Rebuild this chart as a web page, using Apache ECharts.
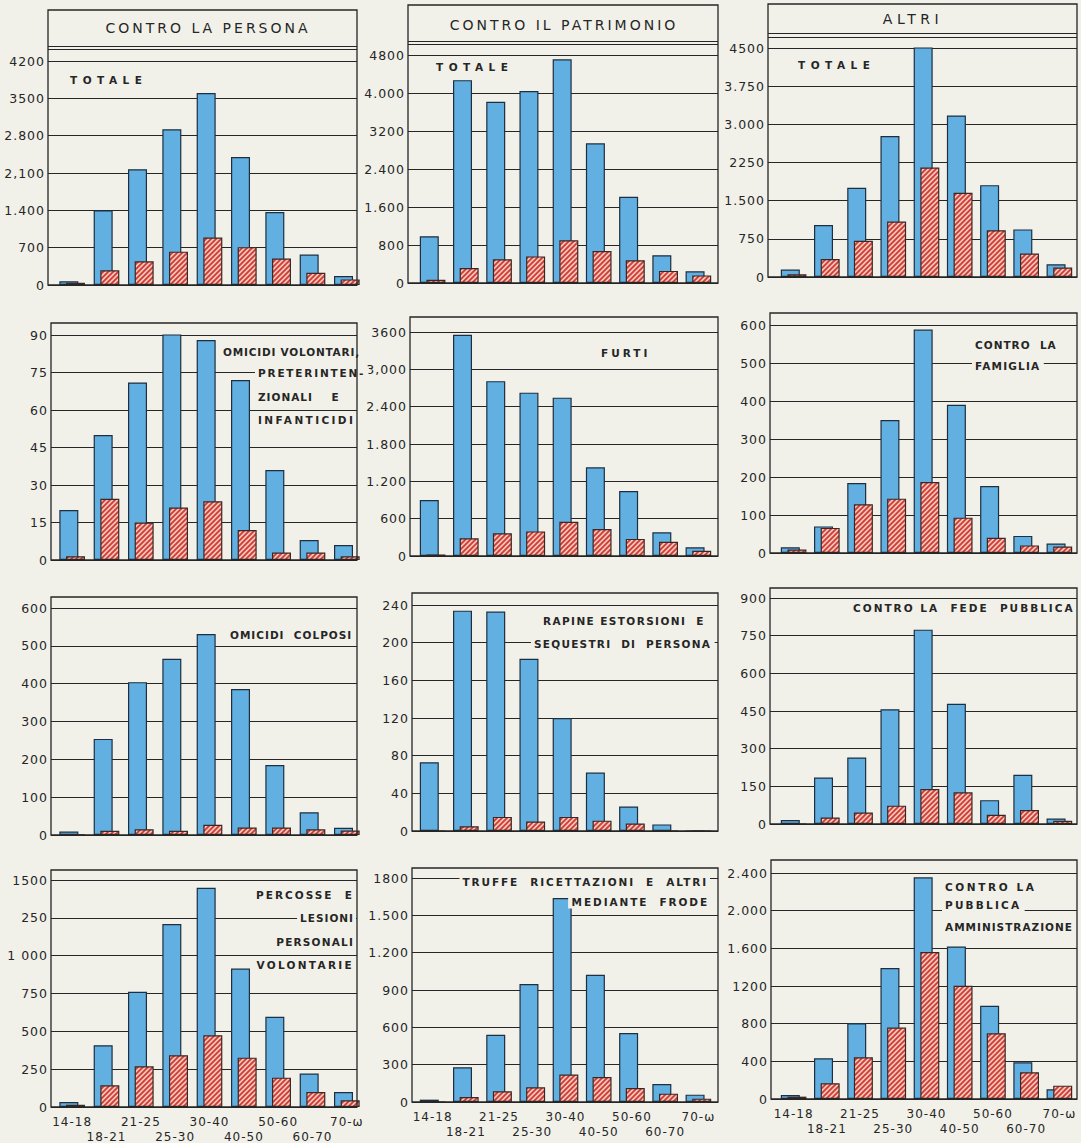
<!DOCTYPE html>
<html>
<head>
<meta charset="utf-8">
<title>Imputati per classe di età</title>
<script src="https://cdn.jsdelivr.net/npm/echarts@6/dist/echarts.min.js"></script>
<style>
  html, body { margin: 0; padding: 0; background: #f1f1ea; }
  #chart { width: 1081px; height: 1143px; }
  #chart svg text { letter-spacing: 1px; white-space: pre; }
</style>
</head>
<body>
<div id="chart"></div>
<script>
// ---- data -------------------------------------------------------------
const ageGroups = ['14-18', '18-21', '21-25', '25-30', '30-40', '40-50', '50-60', '60-70', '70-ω'];

// Contro la persona
const personaTotaleSolid     = [70, 1400, 2170, 2920, 3600, 2400, 1370, 570, 170];
const personaTotaleHatched   = [40, 275, 445, 625, 890, 710, 495, 230, 105];
const personaTotaleTicks     = ['0', '700', '1.400', '2,100', '2.800', '3500', '4200'];

const omicidiVolSolid        = [20, 50, 71, 93, 88, 72, 36, 8, 6];
const omicidiVolHatched      = [1.5, 24.5, 15, 21, 23.5, 12, 3, 3, 1.5];
const omicidiVolTicks        = ['0', '15', '30', '45', '60', '75', '90'];

const omicidiColpSolid       = [9, 254, 404, 466, 531, 386, 185, 60, 19];
const omicidiColpHatched     = [1, 11, 15, 11, 27, 20, 20, 15, 12];
const omicidiColpTicks       = ['0', '100', '200', '300', '400', '500', '600'];

const percosseSolid          = [33, 408, 761, 1209, 1449, 915, 596, 221, 99];
const percosseHatched        = [15, 143, 269, 342, 474, 326, 194, 99, 44];
const percosseTicks          = ['0', '250', '500', '750', '1 000', '250', '1500'];

// Contro il patrimonio
const patrimonioTotaleSolid  = [985, 4270, 3815, 4040, 4710, 2940, 1815, 585, 245];
const patrimonioTotaleHatched= [70, 315, 500, 560, 900, 675, 480, 255, 160];
const patrimonioTotaleTicks  = ['0', '800', '1.600', '2.400', '3200', '4.000', '4800'];

const furtiSolid             = [900, 3555, 2810, 2625, 2545, 1425, 1045, 380, 140];
const furtiHatched           = [25, 285, 365, 395, 550, 435, 275, 230, 85];
const furtiTicks             = ['0', '600', '1.200', '1.800', '2.400', '3,000', '3600'];

const rapineSolid            = [73, 234, 233, 183, 120, 62, 26, 7, 0];
const rapineHatched          = [0, 5, 15, 10, 15, 11, 8, 0, 0];
const rapineTicks            = ['0', '40', '80', '120', '160', '200', '240'];

const truffeSolid            = [19, 279, 541, 948, 1639, 1023, 554, 145, 59];
const truffeHatched          = [0, 40, 86, 118, 220, 201, 113, 67, 27];
const truffeTicks            = ['0', '300', '600', '900', '1.200', '1.500', '1800'];

// Altri
const altriTotaleSolid       = [145, 1020, 1755, 2770, 4630, 3175, 1805, 935, 250];
const altriTotaleHatched     = [55, 355, 710, 1090, 2150, 1655, 920, 460, 185];
const altriTotaleTicks       = ['0', '750', '1.500', '2250', '3.000', '3.750', '4500'];

const famigliaSolid          = [15, 70, 184, 350, 588, 390, 176, 45, 25];
const famigliaHatched        = [9, 66, 128, 143, 187, 93, 40, 20, 17];
const famigliaTicks          = ['0', '100', '200', '300', '400', '500', '600'];

const fedeSolid              = [16, 185, 265, 457, 774, 479, 95, 196, 22];
const fedeHatched            = [0, 26, 46, 73, 139, 126, 37, 56, 13];
const fedeTicks              = ['0', '150', '300', '450', '600', '750', '900'];

const amministrazioneSolid   = [43, 432, 805, 1390, 2354, 1620, 989, 390, 103];
const amministrazioneHatched = [25, 167, 443, 759, 1560, 1202, 698, 284, 142];
const amministrazioneTicks   = ['0', '400', '800', '1200', '1.600', '2.000', '2.400'];

const axisSteps = [700, 800, 750, 15, 600, 100, 100, 40, 150, 250, 300, 400];

const columnTitles = ['CONTRO LA PERSONA', 'CONTRO IL PATRIMONIO', 'ALTRI'];

// panels in reading order (row by row)
const panels = [
  { solid: personaTotaleSolid,    hatched: personaTotaleHatched,    ticks: personaTotaleTicks },
  { solid: patrimonioTotaleSolid, hatched: patrimonioTotaleHatched, ticks: patrimonioTotaleTicks },
  { solid: altriTotaleSolid,      hatched: altriTotaleHatched,      ticks: altriTotaleTicks },
  { solid: omicidiVolSolid,       hatched: omicidiVolHatched,       ticks: omicidiVolTicks },
  { solid: furtiSolid,            hatched: furtiHatched,            ticks: furtiTicks },
  { solid: famigliaSolid,         hatched: famigliaHatched,         ticks: famigliaTicks },
  { solid: omicidiColpSolid,      hatched: omicidiColpHatched,      ticks: omicidiColpTicks },
  { solid: rapineSolid,           hatched: rapineHatched,           ticks: rapineTicks },
  { solid: fedeSolid,             hatched: fedeHatched,             ticks: fedeTicks },
  { solid: percosseSolid,         hatched: percosseHatched,         ticks: percosseTicks },
  { solid: truffeSolid,           hatched: truffeHatched,           ticks: truffeTicks },
  { solid: amministrazioneSolid,  hatched: amministrazioneHatched,  ticks: amministrazioneTicks }
].map((p, i) => Object.assign(p, { step: axisSteps[i] }));

// ---- layout -----------------------------------------------------------
const PAPER = '#f1f1ea';
const INK = '#262626';
const FONT = "'DejaVu Sans', sans-serif";

const colBars  = [[55, 309], [416, 299], [777, 299]];   // left, width of the bar bands
const colRight = [357, 718, 1077];
// boxLeft, boxTop, y of the top tick, y of zero
const frames = [
  [48, 10, 61, 285],   [408, 5, 55, 283],   [768, 4, 48, 277],
  [51, 323, 335, 560], [410, 317, 332, 556], [770, 313, 325, 553],
  [51, 597, 608, 835], [412, 593, 605, 831], [770, 588, 598, 824],
  [51, 870, 880, 1107],[412, 868, 878, 1102],[771, 860, 873, 1099]
];
const headerPos   = [[208, 28, 3], [564, 25, 3], [913, 19, 4.5]];
const headerRules = [[46.5, 49.5], [41.5, 44.5], [33.5, 37.5]];

const notes = [
  { t: 'TOTALE', x: 67, y: 80, ls: 5.5 },
  { t: 'TOTALE', x: 433, y: 67, ls: 5.5 },
  { t: 'TOTALE', x: 795, y: 65, ls: 5.5 },
  { t: 'OMICIDI VOLONTARI,', x: 220, y: 352, ls: 0.8 },
  { t: 'PRETERINTEN-', x: 255, y: 373, ls: 1.8 },
  { t: 'ZIONALI    E', x: 255, y: 397, ls: 1 },
  { t: 'INFANTICIDI', x: 255, y: 420, ls: 2.4 },
  { t: 'FURTI', x: 598, y: 353, ls: 3 },
  { t: 'CONTRO  LA', x: 972, y: 345, ls: 1 },
  { t: 'FAMIGLIA', x: 972, y: 366, ls: 1.2 },
  { t: 'OMICIDI  COLPOSI', x: 227, y: 635, ls: 1 },
  { t: 'RAPINE ESTORSIONI  E', x: 540, y: 621, ls: 1.4 },
  { t: 'SEQUESTRI  DI  PERSONA', x: 531, y: 644, ls: 1.25 },
  { t: 'CONTRO LA  FEDE  PUBBLICA', x: 850, y: 608, ls: 2 },
  { t: 'PERCOSSE  E', x: 356, y: 895, a: 'right', ls: 2 },
  { t: 'LESIONI', x: 356, y: 918, a: 'right', ls: 1 },
  { t: 'PERSONALI', x: 356, y: 942, a: 'right', ls: 1.2 },
  { t: 'VOLONTARIE', x: 356, y: 965, a: 'right', ls: 2.3 },
  { t: 'TRUFFE  RICETTAZIONI  E  ALTRI', x: 710, y: 882, a: 'right', ls: 1.9 },
  { t: 'MEDIANTE  FRODE', x: 711, y: 902, a: 'right', ls: 1.9 },
  { t: 'CONTRO LA', x: 942, y: 887, ls: 2.6 },
  { t: 'PUBBLICA', x: 942, y: 905, ls: 2.2 },
  { t: 'AMMINISTRAZIONE', x: 942, y: 927, ls: 1 }
];

// pink tile with red "/" hatching for the second series
function hatchTile() {
  const s = 5;
  const c = document.createElement('canvas');
  c.width = s; c.height = s;
  const ctx = c.getContext('2d');
  ctx.fillStyle = '#f6c6b6';
  ctx.fillRect(0, 0, s, s);
  ctx.strokeStyle = '#cf3b38';
  ctx.lineWidth = 1.8;
  ctx.beginPath();
  for (let k = -1; k <= 1; k++) {
    ctx.moveTo(k * s - 1, s + 1);
    ctx.lineTo(k * s + s + 1, -1);
  }
  ctx.stroke();
  return c;
}

const solidStyle = { color: '#62b0e1', borderColor: '#1d2f40', borderWidth: 1.2 };
const hatchStyle = {
  color: { image: hatchTile(), repeat: 'repeat' },
  borderColor: '#3a2826', borderWidth: 1.2
};

// ---- option -----------------------------------------------------------
const option = {
  backgroundColor: PAPER,
  animation: false,
  grid: [], xAxis: [], yAxis: [], series: [],
  graphic: { elements: [] }
};
const g = option.graphic.elements;

panels.forEach((p, i) => {
  const col = i % 3, row = Math.floor(i / 3);
  const [L, boxTop, top, zero] = frames[i];
  const R = colRight[col];
  const h = zero - top;
  const max = p.step * (p.ticks.length - 1);

  // frame grid: horizontal rules and tick labels
  option.grid.push({ left: L, top: top, width: R - L, height: h, containLabel: false, outerBoundsMode: 'none' });
  option.xAxis.push({ type: 'category', gridIndex: 2 * i, data: ageGroups, show: false });
  option.yAxis.push({
    type: 'value', gridIndex: 2 * i, min: 0, max: max, interval: p.step,
    axisLine: { show: false }, axisTick: { show: false },
    splitLine: { show: true, lineStyle: { color: INK, width: 1 } },
    axisLabel: {
      margin: 3, color: INK, fontSize: 12.5, fontFamily: FONT,
      formatter: v => p.ticks[Math.round(v / p.step)]
    }
  });

  // bar grid
  option.grid.push({ left: colBars[col][0], top: top, width: colBars[col][1], height: h, containLabel: false, outerBoundsMode: 'none' });
  option.xAxis.push({
    type: 'category', gridIndex: 2 * i + 1, data: ageGroups,
    axisLine: { show: false }, axisTick: { show: false }, splitLine: { show: false },
    axisLabel: row === 3 ? {
      show: true, interval: 0, margin: 7, color: INK, fontSize: 12, lineHeight: 15, fontFamily: FONT,
      formatter: (v, idx) => (idx % 2 ? '\n' + v : v)
    } : { show: false }
  });
  option.yAxis.push({ type: 'value', gridIndex: 2 * i + 1, min: 0, max: max, show: false });

  option.series.push({
    type: 'bar', xAxisIndex: 2 * i + 1, yAxisIndex: 2 * i + 1, data: p.solid,
    barWidth: 19, barGap: '-65%', itemStyle: solidStyle, silent: true
  });
  option.series.push({
    type: 'bar', xAxisIndex: 2 * i + 1, yAxisIndex: 2 * i + 1, data: p.hatched,
    barWidth: 19, barGap: '-65%', itemStyle: hatchStyle, silent: true
  });

  // frame
  g.push({
    type: 'rect', z: 120, silent: true,
    shape: { x: L, y: boxTop, width: R - L, height: zero - boxTop },
    style: { fill: 'none', stroke: INK, lineWidth: 1.3 }
  });

  if (row === 0) {
    headerRules[col].forEach(y => g.push({
      type: 'line', z: 120, silent: true,
      shape: { x1: L, y1: y, x2: R, y2: y },
      style: { stroke: INK, lineWidth: 1 }
    }));
    g.push({
      type: 'text', z: 130, silent: true, x: headerPos[col][0], y: headerPos[col][1],
      style: { text: columnTitles[col], fill: INK, font: '14px ' + FONT, textAlign: 'center', textVerticalAlign: 'middle' }
    });
  }
});

notes.forEach(n => {
  const extra = Math.round(n.ls * n.t.length);
  const right = n.a === 'right';
  g.push({
    type: 'text', z: 110, silent: true, x: n.x, y: n.y,
    style: {
      text: n.t, fill: INK, font: 'bold 10.5px ' + FONT,
      textAlign: right ? 'right' : 'left', textVerticalAlign: 'middle',
      backgroundColor: PAPER,
      padding: right ? [1, 2, 1, 3 + extra] : [1, 3 + extra, 1, 3]
    }
  });
});

// ---- render -----------------------------------------------------------
const chart = echarts.init(document.getElementById('chart'), null, { renderer: 'svg', width: 1081, height: 1143 });
chart.setOption(option);

// individual lettering widths
const spacing = {};
columnTitles.forEach((t, c) => { spacing[t] = headerPos[c][2]; });
notes.forEach(n => { spacing[n.t] = n.ls; });
function applySpacing() {
  document.querySelectorAll('#chart svg text').forEach(el => {
    const s = spacing[el.textContent];
    if (s !== undefined) el.style.letterSpacing = s + 'px';
  });
}
applySpacing();
chart.on('finished', applySpacing);
</script>
</body>
</html>
